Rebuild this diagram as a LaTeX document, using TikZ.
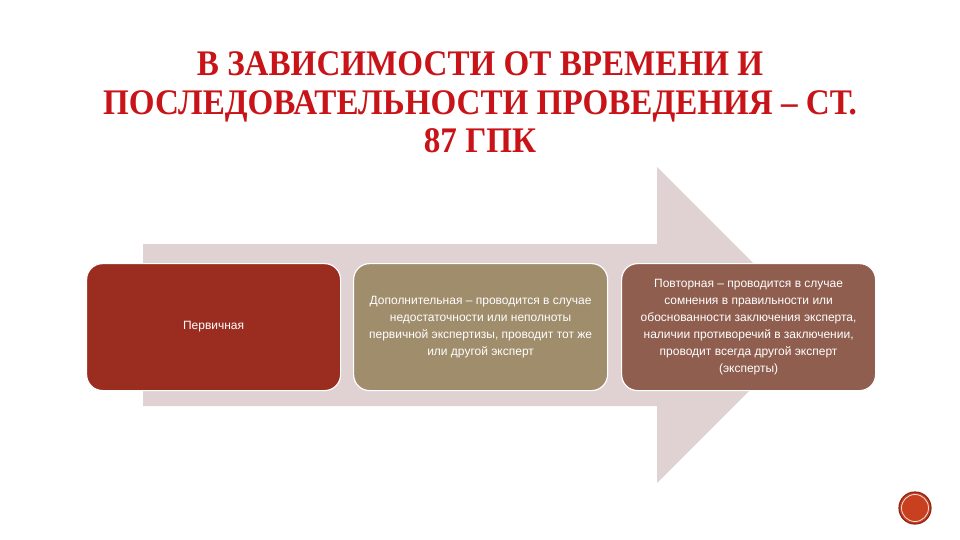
\documentclass[tikz,border=0pt]{standalone}
\usepackage{fontspec}
\setmainfont{Liberation Sans}
\newfontfamily\titlefont[FakeStretch=0.92]{Liberation Serif}
\newfontfamily\boxfont{Liberation Sans}
\definecolor{arrowc}{HTML}{E0D2D3}
\definecolor{boxa}{HTML}{9A2D20}
\definecolor{boxb}{HTML}{A08D6C}
\definecolor{boxc}{HTML}{8F5E4F}
\definecolor{titlec}{HTML}{C81418}
\definecolor{circc}{HTML}{C8401F}
\definecolor{circd}{HTML}{8E2412}
\begin{document}
\begin{tikzpicture}[x=1pt,y=-1pt,
  stagebox/.style={draw=white, line width=1.2pt, rounded corners=16pt, minimum width=254pt, minimum height=127pt, inner sep=0pt, anchor=north west, align=center, text=white, font=\boxfont\fontsize{12}{17}\selectfont},
  titleline/.style={text=titlec, font=\titlefont\bfseries\fontsize{36}{40}\selectfont, anchor=base, inner sep=0pt}]
\useasboundingbox (0,0) rectangle (960,540);
\fill[white] (0,0) rectangle (960,540);
% big arrow
\fill[arrowc] (143,244) -- (657,244) -- (657,167) -- (815,325) -- (657,483) -- (657,406) -- (143,406) -- cycle;
% title
\node[titleline] (t1) at (480,76) {В ЗАВИСИМОСТИ ОТ ВРЕМЕНИ И};
\node[titleline] (t2) at (480,115) {ПОСЛЕДОВАТЕЛЬНОСТИ ПРОВЕДЕНИЯ – СТ.};
\node[titleline] (t3) at (480,153) {87 ГПК};
% boxes
\node[stagebox, fill=boxa] (b1) at (86,263) {Первичная};
\node[stagebox, fill=boxb] (b2) at (353,263) {Дополнительная – проводится в случае\\недостаточности или неполноты\\первичной экспертизы, проводит тот же\\или другой эксперт};
\node[stagebox, fill=boxc] (b3) at (621,263) {Повторная – проводится в случае\\сомнения в правильности или\\обоснованности заключения эксперта,\\наличии противоречий в заключении,\\проводит всегда другой эксперт\\(эксперты)};
% page badge
\node[circle, fill=circc, draw=circd, line width=1.2pt, minimum size=32pt, inner sep=0pt] (badge) at (915,508) {};
\draw[white!85!circc, line width=0.8pt] (badge.center) circle (13.5pt);
\end{tikzpicture}
\end{document}
